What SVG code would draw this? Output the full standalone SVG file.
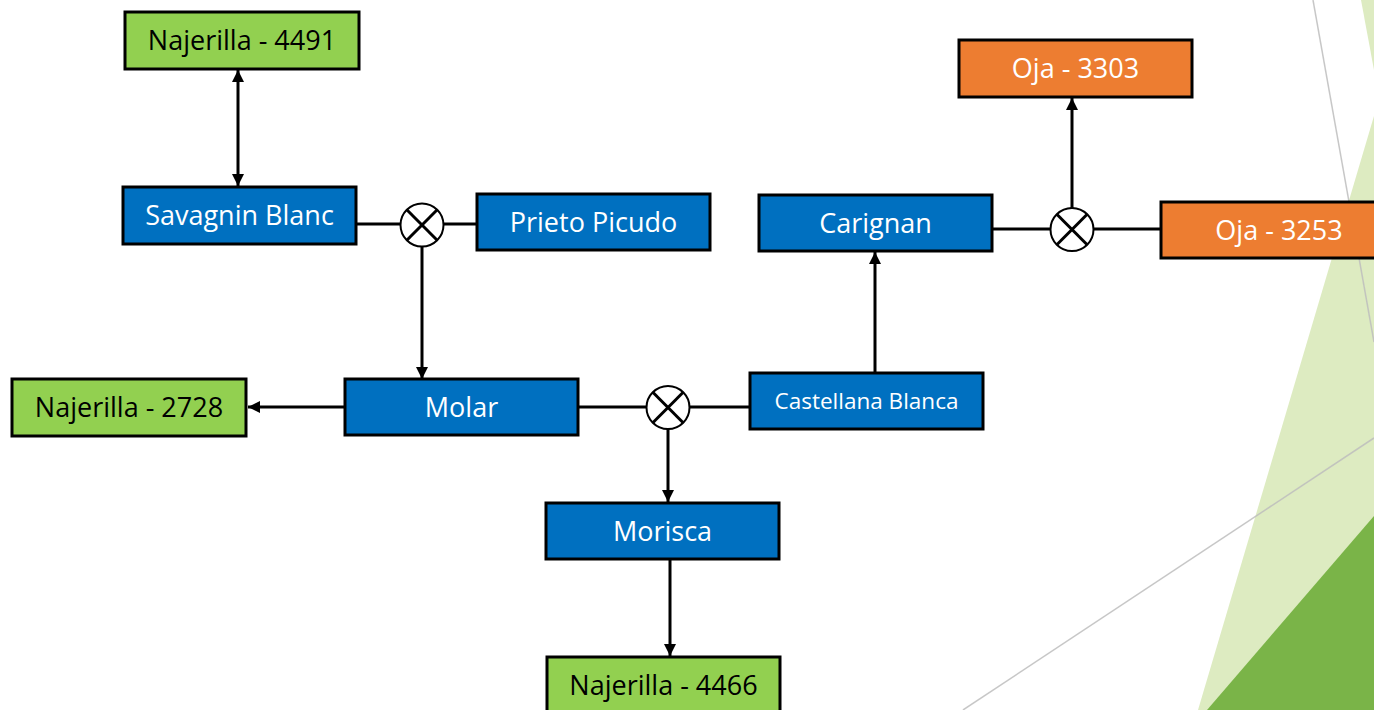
<svg xmlns="http://www.w3.org/2000/svg" width="1374" height="710" viewBox="0 0 1374 710">
<defs>
<marker id="arr" markerUnits="userSpaceOnUse" markerWidth="12" markerHeight="12" viewBox="0 0 10 10" refX="10" refY="5" orient="auto-start-reverse">
<path d="M0,0 L10,5 L0,10 z" fill="#000"/>
</marker>
<style>
.box{stroke:#000;stroke-width:3}
.blue{fill:#0070C0}
.green{fill:#92D050}
.orange{fill:#ED7D31}
.t{font-family:"Open Sans","Noto Sans","Liberation Sans",sans-serif;font-size:27px;text-anchor:middle}
.tw{fill:#fff}
.tb{fill:#000}
.c{stroke:#000;stroke-width:3;fill:none}
.circ{fill:#fff;stroke:#000;stroke-width:2}
.x{stroke:#000;stroke-width:3}
.bg{stroke:#BDBDBD;stroke-width:1.5;fill:none;opacity:0.85}
</style>
</defs>
<rect width="1374" height="710" fill="#fff"/>
<g id="background">
<polygon points="1361,0 1374,0 1374,70" fill="#DDEBC1"/>
<polygon points="1374,116 1374,710 1198,710" fill="#DDEBC1"/>
<polygon points="1374,516 1374,710 1207,710" fill="#7AB448"/>
<line class="bg" x1="1313" y1="0" x2="1374" y2="342"/>
<line class="bg" x1="963" y1="710" x2="1374" y2="438"/>
</g>
<g id="connectors">
<line class="c" x1="238" y1="70" x2="238" y2="186" marker-start="url(#arr)" marker-end="url(#arr)"/>
<line class="c" x1="356" y1="224" x2="477" y2="224"/>
<line class="c" x1="422" y1="246" x2="422" y2="379" marker-end="url(#arr)"/>
<line class="c" x1="345" y1="407" x2="248" y2="407" marker-end="url(#arr)"/>
<line class="c" x1="578" y1="407" x2="750" y2="407"/>
<line class="c" x1="668" y1="428" x2="668" y2="502" marker-end="url(#arr)"/>
<line class="c" x1="670" y1="559" x2="670" y2="656" marker-end="url(#arr)"/>
<line class="c" x1="875" y1="373" x2="875" y2="252" marker-end="url(#arr)"/>
<line class="c" x1="992" y1="229" x2="1161" y2="229"/>
<line class="c" x1="1072" y1="208" x2="1072" y2="98" marker-end="url(#arr)"/>
</g>
<g id="mix1">
<circle class="circ" cx="422" cy="225" r="21.5"/>
<line class="x" x1="406.8" y1="209.8" x2="437.2" y2="240.2"/>
<line class="x" x1="437.2" y1="209.8" x2="406.8" y2="240.2"/>
</g>
<g id="mix2">
<circle class="circ" cx="668" cy="407.5" r="21.5"/>
<line class="x" x1="652.8" y1="392.3" x2="683.2" y2="422.7"/>
<line class="x" x1="683.2" y1="392.3" x2="652.8" y2="422.7"/>
</g>
<g id="mix3">
<circle class="circ" cx="1072" cy="229.5" r="21.5"/>
<line class="x" x1="1056.8" y1="214.3" x2="1087.2" y2="244.7"/>
<line class="x" x1="1087.2" y1="214.3" x2="1056.8" y2="244.7"/>
</g>
<g id="najerilla4491">
<rect class="box green" x="125" y="12" width="234" height="57"/>
<text class="t tb" x="242" y="50">Najerilla - 4491</text>
</g>
<g id="savagnin">
<rect class="box blue" x="123" y="187" width="233" height="57"/>
<text class="t tw" x="239.5" y="225">Savagnin Blanc</text>
</g>
<g id="prieto">
<rect class="box blue" x="477" y="194" width="233" height="56"/>
<text class="t tw" x="593.5" y="231.5">Prieto Picudo</text>
</g>
<g id="molar">
<rect class="box blue" x="345" y="379" width="233" height="56"/>
<text class="t tw" x="461.5" y="416.5">Molar</text>
</g>
<g id="najerilla2728">
<rect class="box green" x="12" y="379" width="234" height="57"/>
<text class="t tb" x="129" y="417">Najerilla - 2728</text>
</g>
<g id="castellana">
<rect class="box blue" x="750" y="373" width="233" height="56"/>
<text class="t tw" x="866.5" y="409" style="font-size:22.5px">Castellana Blanca</text>
</g>
<g id="morisca">
<rect class="box blue" x="546" y="503" width="233" height="56"/>
<text class="t tw" x="662.5" y="540.5">Morisca</text>
</g>
<g id="najerilla4466">
<rect class="box green" x="547" y="657" width="233" height="57"/>
<text class="t tb" x="663.5" y="695">Najerilla - 4466</text>
</g>
<g id="carignan">
<rect class="box blue" x="759" y="195" width="233" height="56"/>
<text class="t tw" x="875.5" y="232.5">Carignan</text>
</g>
<g id="oja3303">
<rect class="box orange" x="959" y="40" width="233" height="57"/>
<text class="t tw" x="1075.5" y="78">Oja - 3303</text>
</g>
<g id="oja3253">
<rect class="box orange" x="1161" y="202" width="233" height="56"/>
<text class="t tw" x="1279" y="239.5">Oja - 3253</text>
</g>
</svg>
